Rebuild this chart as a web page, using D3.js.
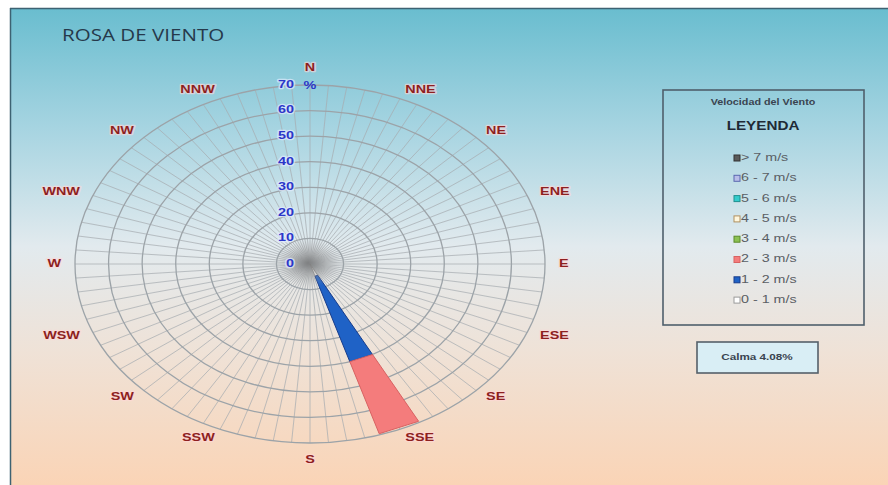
<!DOCTYPE html>
<html><head><meta charset="utf-8">
<script src="https://cdn.jsdelivr.net/npm/d3@7"></script>
<style>html,body{margin:0;padding:0;background:#fff;}svg{display:block;}</style>
</head><body>
<svg id="chart" width="888" height="485"></svg>
<script>
// ---------- data ----------
const directions = ["N","NNE","NE","ENE","E","ESE","SE","SSE","S","SSW","SW","WSW","W","WNW","NW","NNW"];
const speedClasses = ["0 - 1 m/s","1 - 2 m/s","2 - 3 m/s","3 - 4 m/s","4 - 5 m/s","5 - 6 m/s","6 - 7 m/s","> 7 m/s"];
const speed0to1 = [0,0,0,0,0,0,0,5,0,0,0,0,0,0,0,0];
const speed1to2 = [0,0,0,0,0,0,0,35,0,0,0,0,0,0,0,0];
const speed2to3 = [0,0,0,0,0,0,0,29.5,0,0,0,0,0,0,0,0];
const speed3to4 = [0,0,0,0,0,0,0,0,0,0,0,0,0,0,0,0];
const speed4to5 = [0,0,0,0,0,0,0,0,0,0,0,0,0,0,0,0];
const speed5to6 = [0,0,0,0,0,0,0,0,0,0,0,0,0,0,0,0];
const speed6to7 = [0,0,0,0,0,0,0,0,0,0,0,0,0,0,0,0];
const speedOver7 = [0,0,0,0,0,0,0,0,0,0,0,0,0,0,0,0];
const ringTicks = [0,10,20,30,40,50,60,70];
const calmaPct = 4.08;
const titleText = "ROSA DE VIENTO";
const legendTitle = "Velocidad del Viento";
const legendHeader = "LEYENDA";

// ---------- layout / style ----------
const W = 888, H = 485;
const cx = 310, cy = 264, RX = 235, RY = 179;
const SX = 1.31; // horizontal text stretch of the picture
const spokeCount = 80;
const wedgeHalf = 5.25; // degrees
const seriesColors = ["#ffffff","#1f62c6","#f47c7c","#8cc152","#fff6dc","#33cccc","#b9bde8","#5a5a5a"];
const seriesStroke = ["#9a9a9a","#183d8c","#d86262","#5a8a2a","#b09060","#1f8f8f","#5a68b0","#333333"];

const svg = d3.select("#chart");
const defs = svg.append("defs");
const bg = defs.append("linearGradient").attr("id","bg").attr("x1",0).attr("y1",0).attr("x2",0).attr("y2",1);
[[0,"#69bdcf"],[0.25,"#a6d4e1"],[0.5,"#e2eaee"],[0.72,"#efe2d7"],[1,"#fad4b6"]].forEach(s=>bg.append("stop").attr("offset",s[0]).attr("stop-color",s[1]));
const blob = defs.append("radialGradient").attr("id","blob");
[[0,"rgba(110,110,110,0.7)"],[0.5,"rgba(145,145,145,0.4)"],[1,"rgba(175,175,175,0)"]].forEach(s=>blob.append("stop").attr("offset",s[0]).attr("stop-color",s[1]));

svg.append("rect").attr("width",W).attr("height",H).attr("fill","#fff");
svg.append("rect").attr("x",10).attr("y",8).attr("width",W-10).attr("height",H-8).attr("fill","url(#bg)");
svg.append("line").attr("x1",10).attr("y1",8.5).attr("x2",W).attr("y2",8.5).attr("stroke","#3d6272").attr("stroke-width",1.5);
svg.append("line").attr("x1",10.5).attr("y1",8).attr("x2",10.5).attr("y2",H).attr("stroke","#3d6272").attr("stroke-width",1.5);

function stext(g, x, y, str, o) {
  const t = g.append("text").attr("transform",`translate(${x},${y}) scale(${o.sx||SX},1)`)
    .attr("font-family", o.family || "'Liberation Sans', Arial, sans-serif")
    .attr("font-size", o.size).attr("font-weight", o.weight || "normal")
    .attr("fill", o.fill).attr("text-anchor", o.anchor || "start")
    .attr("dominant-baseline", o.base || "auto").text(str);
  if (o.halo) t.attr("stroke", o.halo).attr("stroke-width", 2.5).attr("paint-order","stroke").attr("stroke-linejoin","round");
  return t;
}

// title
stext(svg, 62, 41, titleText, {size:17, fill:"#26394b", family:"'Open Sans', 'Liberation Sans', sans-serif", sx:1.21});

// scales
const r = d3.scaleLinear().domain([0,70]).range([0,1]);
const ang = d3.scaleLinear().domain([0,directions.length]).range([0,360]);
const pt = (deg, v) => { const a = deg*Math.PI/180; return [cx + RX*r(v)*Math.sin(a), cy - RY*r(v)*Math.cos(a)]; };

// grid
const grid = svg.append("g");
grid.selectAll("line.spoke").data(d3.range(spokeCount)).join("line")
  .attr("x1",cx).attr("y1",cy)
  .attr("x2",d=>pt(d*360/spokeCount,70)[0]).attr("y2",d=>pt(d*360/spokeCount,70)[1])
  .attr("stroke","#a7adb1").attr("stroke-width",0.9).attr("opacity",0.8);
grid.selectAll("ellipse.ring").data(ringTicks.filter(d=>d>0)).join("ellipse")
  .attr("cx",cx).attr("cy",cy).attr("rx",d=>RX*r(d)).attr("ry",d=>RY*r(d))
  .attr("fill","none").attr("stroke","#9ca3a8").attr("stroke-width",1.3);

// stacked wedges
const rows = directions.map((d,i)=>({dir:d, i, "0 - 1 m/s":speed0to1[i], "1 - 2 m/s":speed1to2[i], "2 - 3 m/s":speed2to3[i],
  "3 - 4 m/s":speed3to4[i], "4 - 5 m/s":speed4to5[i], "5 - 6 m/s":speed5to6[i], "6 - 7 m/s":speed6to7[i], "> 7 m/s":speedOver7[i]}));
const stacked = d3.stack().keys(speedClasses)(rows);
const wedges = svg.append("g");
stacked.forEach((layer, k) => {
  wedges.selectAll(null).data(layer.filter(s => s[1]-s[0] > 0)).join("polygon")
    .attr("points", s => {
      const a = ang(s.data.i), a1 = a - wedgeHalf, a2 = a + wedgeHalf;
      return [pt(a1,s[0]), pt(a1,s[1]), pt(a2,s[1]), pt(a2,s[0])].map(p=>p.join(",")).join(" ");
    })
    .attr("fill", seriesColors[k]).attr("stroke", seriesStroke[k]).attr("stroke-width",1).attr("stroke-linejoin","round");
});

// center shadow
svg.append("ellipse").attr("cx",cx-2).attr("cy",cy-1).attr("rx",32).attr("ry",25).attr("fill","url(#blob)");

// ring labels
const rl = svg.append("g");
ringTicks.forEach(v => {
  stext(rl, 294, cy - RY*r(v), String(v), {size:11, weight:"bold", fill:"#2b36c9", anchor:"end", base:"middle", halo:"rgba(225,235,255,0.7)"});
});
stext(rl, cx, 86, "%", {size:11, weight:"bold", fill:"#2b36c9", anchor:"middle", base:"middle"});

// direction labels
const dl = svg.append("g");
directions.forEach((d,i) => {
  const a = ang(i)*Math.PI/180, s = Math.sin(a), c = Math.cos(a);
  const cardinalNS = Math.abs(s) < 0.05;
  const anchor = cardinalNS ? "middle" : (s > 0 ? "start" : "end");
  const x = cx + 249*s;
  const y = cy - 188*c - (cardinalNS ? 8*Math.sign(c) : 0);
  stext(dl, x, y, d, {size:11, weight:"bold", fill:"#8e1f1f", anchor, base:"middle", halo:"rgba(255,215,215,0.6)"});
});

// legend
const lg = svg.append("g");
lg.append("rect").attr("x",663).attr("y",90).attr("width",201).attr("height",235)
  .attr("fill","none").attr("stroke","#4f5f6c").attr("stroke-width",1.6);
stext(lg, 763, 103, legendTitle, {size:8.5, weight:"bold", fill:"#3a4450", anchor:"middle", base:"middle", sx:1.27});
stext(lg, 763, 127, legendHeader, {size:12, weight:"bold", fill:"#1f2a36", anchor:"middle", base:"middle", sx:1.27});
const legendOrder = speedClasses.map((s,k)=>({s,k})).reverse();
legendOrder.forEach((o, j) => {
  const y = 158 + j*20.3;
  lg.append("rect").attr("x",734).attr("y",y-3).attr("width",6).attr("height",6)
    .attr("fill", seriesColors[o.k]).attr("stroke", seriesStroke[o.k]).attr("stroke-width",1);
  stext(lg, 741, y, o.s, {size:11, fill:"#5a5e64", base:"middle", sx:1.3});
});

// calma box
svg.append("rect").attr("x",697).attr("y",342).attr("width",121).attr("height",31)
  .attr("fill","#d9eef5").attr("stroke","#55606a").attr("stroke-width",1.6);
stext(svg, 757, 358, `Calma ${calmaPct.toFixed(2)}%`, {size:9, weight:"bold", fill:"#3a4450", anchor:"middle", base:"middle", sx:1.3});
</script>
</body></html>
